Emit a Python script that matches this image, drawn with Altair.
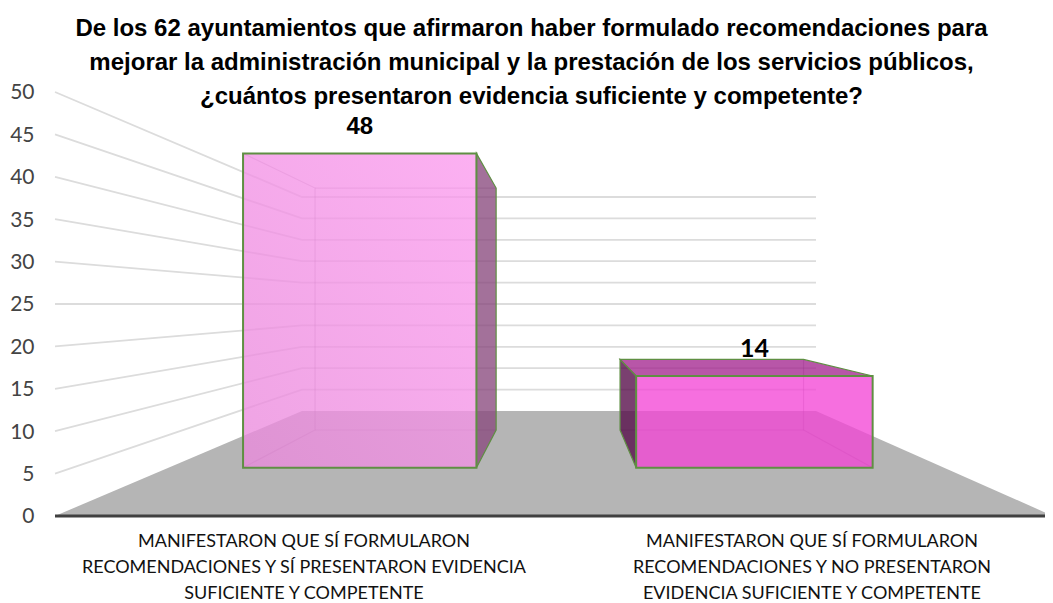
import altair as alt
import pandas as pd

title_lines = [
    "De los 62 ayuntamientos que afirmaron haber formulado recomendaciones para",
    "mejorar la administración municipal y la prestación de los servicios públicos,",
    "¿cuántos presentaron evidencia suficiente y competente?",
]
categories = [
    "MANIFESTARON QUE SÍ FORMULARON\nRECOMENDACIONES Y SÍ PRESENTARON EVIDENCIA\nSUFICIENTE Y COMPETENTE",
    "MANIFESTARON QUE SÍ FORMULARON\nRECOMENDACIONES Y NO PRESENTARON\nEVIDENCIA SUFICIENTE Y COMPETENTE",
]
values = [48, 14]
ticks = [0, 5, 10, 15, 20, 25, 30, 35, 40, 45, 50]

# 3-D box placement: across the floor (u) and into the depth (t)
bar_u = [(0.096, 0.397), (0.603, 0.908)]
T_FRONT, T_BACK = 0.46, 0.819


def px(u, t):
    left = 55 + 247 * t
    right = 1053 - 237 * t
    return left + (right - left) * u


def py(v, t):
    # expressed in units of the front-edge value axis
    return (105 * t + (8.48 - 4.2 * t) * v) / 8.48


def pt(u, v, t, **kw):
    return dict(x=px(u, t), y=py(v, t), **kw)


xs = alt.Scale(domain=[40, 1045], range=[0, 1005], nice=False, zero=False)
ys = alt.Scale(domain=[-1.651, 51.415], range=[450, 0], nice=False, zero=False)
yaxis = alt.Axis(values=ticks, grid=False, domain=False, ticks=False, title=None, labelPadding=6, labelOffset=1,
                 labelFont="Lato", labelFontSize=21, labelColor="#444444", labelFontWeight="normal")
X = alt.X("x:Q", scale=xs, axis=None)
Y = alt.Y("y:Q", scale=ys, axis=yaxis)


def lines(segments, **mark):
    rows = []
    for k, seg in enumerate(segments):
        for i, (u, v, t) in enumerate(seg):
            rows.append(pt(u, v, t, k=k, i=i))
    return alt.Chart(pd.DataFrame(rows)).mark_line(**mark).encode(X, Y, detail="k:N", order="i:Q")


def vertical_face(u, t0, t1, v, **mark):
    rows = [dict(x=px(u, t), y=py(v, t), y2=py(0, t)) for t in (t0, t1)]
    return alt.Chart(pd.DataFrame(rows)).mark_area(**mark).encode(X, Y, alt.Y2("y2:Q"))


def flat_face(u0, u1, t0, t1, v, **mark):
    rows = [dict(y=py(v, t), x=px(u0, t), x2=px(u1, t)) for t in (t0, t1)]
    return alt.Chart(pd.DataFrame(rows)).mark_area(orient="horizontal", **mark).encode(X, alt.X2("x2:Q"), Y)


GREEN = "#5f8f43"
INNER = "#5a3a55"

floor = flat_face(0, 1, 0, 1, 0, color="#b5b5b5")
grid = lines([[(0, v, 0), (0, v, 1), (1, v, 1)] for v in ticks[1:]], color="#dcdcdc", strokeWidth=1.8)
base = lines([[(0, 0, 0), (1, 0, 0)]], color="#404040", strokeWidth=3.2)

(a0, a1), (b0, b1) = bar_u
va, vb = values
F, B = T_FRONT, T_BACK

inner = lines([
    [(a0, va, F), (a0, va, B), (a0, 0, B), (a0, 0, F)],
    [(a0, va, B), (a1, va, B)],
    [(a0, 0, B), (a1, 0, B)],
    [(b1, vb, B), (b1, 0, B), (b1, 0, F)],
    [(b0, 0, B), (b1, 0, B)],
], color=INNER, strokeWidth=1.2, opacity=0.28)

bar1_side = vertical_face(a1, F, B, va, color="#89497e", fillOpacity=0.78, stroke=GREEN, strokeWidth=1.2)
bar2_side = vertical_face(b0, F, B, vb, color="#550a48", fillOpacity=0.78, stroke=GREEN, strokeWidth=1.2)
bar2_top = flat_face(b0, b1, F, B, vb, color="#a42690", fillOpacity=0.78, stroke=GREEN, strokeWidth=1.2)

grad1 = alt.LinearGradient(gradient="linear", x1=0, y1=1, x2=1, y2=0,
                           stops=[alt.GradientStop(color="#ea8adc", offset=0),
                                  alt.GradientStop(color="#fb9aee", offset=1)])
bar1_front = alt.Chart(pd.DataFrame([dict(x=px(a0, F), x2=px(a1, F), y=py(va, F), y2=py(0, F))])).mark_rect(
    color=grad1, fillOpacity=0.78, stroke=GREEN, strokeWidth=2).encode(X, alt.X2("x2:Q"), Y, alt.Y2("y2:Q"))
bar2_front = alt.Chart(pd.DataFrame([dict(x=px(b0, F), x2=px(b1, F), y=py(vb, F), y2=py(0, F))])).mark_rect(
    color="#f344d6", fillOpacity=0.77, stroke=GREEN, strokeWidth=2).encode(X, alt.X2("x2:Q"), Y, alt.Y2("y2:Q"))


def value_label(i, font, size, dy):
    u = (bar_u[i][0] + bar_u[i][1]) / 2
    row = pt(u, values[i], F, label=str(values[i]))
    return alt.Chart(pd.DataFrame([row])).mark_text(
        font=font, fontSize=size, fontWeight="bold", color="black", dy=dy, baseline="middle"
    ).encode(X, Y, text="label:N")


cat_rows = []
for i, c in enumerate(categories):
    u = (bar_u[i][0] + bar_u[i][1]) / 2 + 0.003
    cat_rows.append(dict(x=px(u, 0), c=c))
cats = alt.Chart(pd.DataFrame(cat_rows)).mark_text(
    font="Lato", fontSize=18, color="#111111", lineBreak="\n", lineHeight=26, baseline="top", align="center"
).encode(X, y=alt.value(453), text="c:N")

chart = alt.layer(
    floor, grid, base, inner, bar1_side, bar2_side, bar2_top, bar1_front, bar2_front,
    value_label(0, "Liberation Sans", 24, -26), value_label(1, "Lato", 25, -27), cats,
).properties(
    width=1005, height=450,
    padding={"left": 32, "top": 72, "right": 0, "bottom": 73},
    autosize=alt.AutoSizeParams(type="none"),
    title=alt.TitleParams(text=title_lines, anchor="middle", dx=-11, offset=-29, font="Liberation Sans",
                          fontSize=24, fontWeight="bold", color="black", lineHeight=34),
).configure_view(stroke=None)

chart.save("out.html", embed_options={"renderer": "svg", "actions": False})
